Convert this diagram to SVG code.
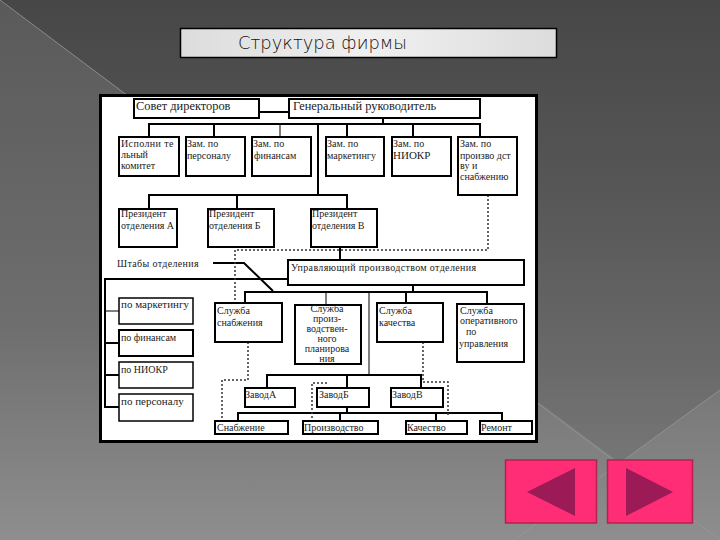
<svg xmlns="http://www.w3.org/2000/svg" width="720" height="540" viewBox="0 0 720 540">
<defs>
<linearGradient id="top" gradientUnits="userSpaceOnUse" x1="0" y1="0" x2="0" y2="461"><stop offset="0" stop-color="#474747"/><stop offset="0.4" stop-color="#565656"/><stop offset="0.8" stop-color="#6a6a6a"/><stop offset="1" stop-color="#767676"/></linearGradient>
<linearGradient id="left" gradientUnits="userSpaceOnUse" x1="0" y1="0" x2="0" y2="540"><stop offset="0" stop-color="#5a5a5a"/><stop offset="0.6" stop-color="#6e6e6e"/><stop offset="1" stop-color="#8e8e8e"/></linearGradient>
<linearGradient id="right" gradientUnits="userSpaceOnUse" x1="0" y1="390" x2="0" y2="540"><stop offset="0" stop-color="#787878"/><stop offset="1" stop-color="#8e8e8e"/></linearGradient>
<linearGradient id="bar" x1="0" y1="0" x2="1" y2="0"><stop offset="0" stop-color="#dcdcdc"/><stop offset="0.5" stop-color="#f0f0f0"/><stop offset="1" stop-color="#dcdcdc"/></linearGradient>
</defs>
<style>
.b{fill:#fff;stroke:#000;stroke-width:2}
.b2{fill:#fff;stroke:#000;stroke-width:1.5}
.t{font-family:"Liberation Serif",serif;font-size:10px;fill:#222}
.w{font-size:11px}
.h{font-size:12.400px}
.s{fill:none;stroke:#000;stroke-width:2}
.n{fill:none;stroke:#000;stroke-width:1}
.d{fill:none;stroke:#333;stroke-width:1.5;stroke-dasharray:2 2}
.g{fill:none;stroke:#8f9a9a;stroke-width:1;opacity:.8}
</style>
<g id="background">
<rect width="720" height="540" fill="url(#left)"/>
<path d="M0 0H720V390L620 463Z" fill="url(#top)"/>
<path d="M720 390L620 463L720 540Z" fill="url(#right)"/>
<path class="g" d="M0 0L720 540M720 390L514 540"/>
</g>
<g id="title"><rect x="180.500" y="28.500" width="376" height="29" fill="url(#bar)" stroke="#000" stroke-width="1.500"/><text x="238" y="49" font-family="'DejaVu Sans',sans-serif" font-weight="200" font-size="17.500" textLength="169" lengthAdjust="spacingAndGlyphs" fill="#111">Структура фирмы</text></g>
<rect id="panel" x="100.500" y="95.500" width="436" height="346" fill="#fff" stroke="#000" stroke-width="3"/>
<g id="connectors">
<path class="s" d="M259 112H289M383 118V124M149 137V124H480V137M214 124V137M347 124V137M413 124V137M318 124V195M149 209V195H347V209M237 195V209M340 247V260M213 263H244L273 291M288 279H105V407H119M105 343H119M105 375H119M245 303V292H487V304M413 285V292M406 292V303M267 388V375H421V388M347 375V388M347 407V413M238 421V413H502V421M340 413V421M436 413V421"/>
<path class="n" d="M280 124V137M105 311H119M326 292V305M369 292V375"/>
<path class="d" d="M488 195V250H235V303M248 342V380H222V421M423 342V382H448V417M327 383H312V421"/>
</g>
<g id="n1"><rect class="b" x="134" y="99" width="125" height="19"/><text class="t h" x="136" y="110">Совет директоров</text></g>
<g id="n2"><rect class="b" x="289" y="99" width="191" height="19"/><text class="t h" x="293" y="110">Генеральный руководитель</text></g>
<g id="n3"><rect class="b" x="119" y="137" width="60" height="39"/><text class="t" x="121" y="147" letter-spacing=".4">Исполни те</text><text class="t" x="121" y="158">льный</text><text class="t" x="121" y="169">комитет</text></g>
<g id="n4"><rect class="b" x="186" y="137" width="59" height="39"/><text class="t" x="187" y="147">Зам. по</text><text class="t" x="187" y="159">персоналу</text></g>
<g id="n5"><rect class="b" x="252" y="137" width="59" height="39"/><text class="t" x="253" y="147">Зам. по</text><text class="t" x="254" y="159">финансам</text></g>
<g id="n6"><rect class="b" x="326" y="137" width="58" height="39"/><text class="t" x="327" y="147">Зам. по</text><text class="t" x="327" y="159">маркетингу</text></g>
<g id="n7"><rect class="b" x="392" y="137" width="59" height="39"/><text class="t" x="393" y="147">Зам. по</text><text class="t w" x="393" y="159">НИОКР</text></g>
<g id="n8"><rect class="b" x="458" y="137" width="59" height="58"/><text class="t" x="460" y="147">Зам. по</text><text class="t" x="460" y="159">произво дст</text><text class="t" x="460" y="169">ву и</text><text class="t" x="460" y="180">снабжению</text></g>
<g id="n9"><rect class="b" x="119" y="209" width="58" height="38"/><text class="t" x="121" y="217">Президент</text><text class="t" x="121" y="229">отделения А</text></g>
<g id="n10"><rect class="b" x="208" y="209" width="66" height="38"/><text class="t" x="209" y="217">Президент</text><text class="t" x="209" y="229">отделения Б</text></g>
<g id="n11"><rect class="b" x="311" y="209" width="66" height="38"/><text class="t" x="312" y="217">Президент</text><text class="t" x="312" y="229">отделения В</text></g>
<g id="n12"><text class="t" x="117" y="267" letter-spacing=".35">Штабы отделения</text></g>
<g id="n13"><rect class="b" x="288" y="260" width="236" height="25"/><text class="t" x="291" y="271" letter-spacing=".35">Управляющий производством отделения</text></g>
<g id="n14"><rect class="b2" x="119" y="298" width="74" height="26"/><text class="t w" x="121" y="308">по маркетингу</text></g>
<g id="n15"><rect class="b" x="119" y="330" width="74" height="26"/><text class="t" x="121" y="341">по финансам</text></g>
<g id="n16"><rect class="b2" x="119" y="362" width="74" height="26"/><text class="t" x="121" y="373">по НИОКР</text></g>
<g id="n17"><rect class="b2" x="119" y="394" width="74" height="27"/><text class="t w" x="121" y="405">по персоналу</text></g>
<g id="n18"><rect class="b" x="215" y="303" width="67" height="39"/><text class="t" x="217" y="314">Служба</text><text class="t" x="217" y="326">снабжения</text></g>
<g id="n19"><rect class="b" x="295" y="305" width="66" height="59"/><g text-anchor="middle"><text class="t" x="327" y="312">Служба</text><text class="t" x="327" y="322">произ-</text><text class="t" x="327" y="332">водствен-</text><text class="t" x="327" y="342">ного</text><text class="t" x="327" y="352">планирова</text><text class="t" x="327" y="362">ния</text></g></g>
<g id="n20"><rect class="b" x="377" y="303" width="66" height="39"/><text class="t" x="379" y="314">Служба</text><text class="t" x="379" y="326">качества</text></g>
<g id="n21"><rect class="b" x="457" y="304" width="67" height="58"/><text class="t" x="460" y="314">Служба</text><text class="t" x="460" y="324">оперативного</text><text class="t" x="466" y="335">по</text><text class="t" x="459" y="347">управления</text></g>
<g id="n22"><rect class="b" x="245" y="388" width="50" height="19"/><text class="t" x="245" y="398">ЗаводА</text></g>
<g id="n23"><rect class="b" x="317" y="388" width="52" height="19"/><text class="t" x="319" y="398">ЗаводБ</text></g>
<g id="n24"><rect class="b" x="391" y="388" width="52" height="19"/><text class="t" x="392" y="398">ЗаводВ</text></g>
<g id="n25"><rect class="b" x="215" y="421" width="73" height="13"/><text class="t" x="217" y="431">Снабжение</text></g>
<g id="n26"><rect class="b" x="303" y="421" width="75" height="13"/><text class="t" x="304" y="431">Производство</text></g>
<g id="n27"><rect class="b" x="406" y="421" width="61" height="13"/><text class="t" x="407" y="431">Качество</text></g>
<g id="n28"><rect class="b" x="480" y="421" width="52" height="13"/><text class="t" x="481" y="431">Ремонт</text></g>
<g id="prev"><rect x="505.500" y="460" width="91" height="63" fill="#ff2d75" stroke="#b8204f" stroke-width="1.500"/><path d="M527 492L575 468V516Z" fill="#9c1a55"/></g>
<g id="next"><rect x="607.500" y="460" width="85" height="63" fill="#ff2d75" stroke="#b8204f" stroke-width="1.500"/><path d="M626 468L673 492L626 516Z" fill="#9c1a55"/></g>
</svg>
